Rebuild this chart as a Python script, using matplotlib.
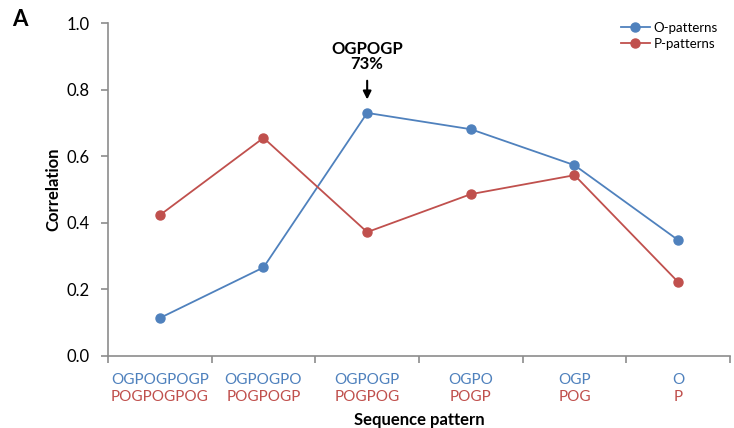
import matplotlib.pyplot as plt
import matplotlib.transforms as mtransforms

plt.rcParams['font.family'] = ['Lato', 'DejaVu Sans']

o_labels = ["OGPOGPOGP", "OGPOGPO", "OGPOGP", "OGPO", "OGP", "O"]
p_labels = ["POGPOGPOG", "POGPOGP", "POGPOG", "POGP", "POG", "P"]
o_values = [0.114, 0.266, 0.73, 0.681, 0.573, 0.348]
p_values = [0.423, 0.655, 0.372, 0.486, 0.543, 0.222]

blue = "#4F81BD"
red = "#C0504D"
axis_gray = "#8C8C8C"

fig = plt.figure(figsize=(7.34, 4.28), dpi=100)
ax = fig.add_axes([108 / 734, 1 - 356 / 428, 622 / 734, 333 / 428])

x = list(range(1, len(o_values) + 1))
ax.plot(x, o_values, color=blue, marker="o", markersize=6.5, linewidth=1.3,
        label="O-patterns")
ax.plot(x, p_values, color=red, marker="o", markersize=6.5, linewidth=1.3,
        label="P-patterns")

ax.set_xlim(0.5, 6.5)
ax.set_ylim(0, 1.0)
ax.set_yticks([0.0, 0.2, 0.4, 0.6, 0.8, 1.0])
ax.set_yticklabels(["0.0", "0.2", "0.4", "0.6", "0.8", "1.0"], fontsize=12)
ax.set_xticks([i + 0.5 for i in range(0, 7)])
ax.set_xticklabels([])

for side in ["top", "right"]:
    ax.spines[side].set_visible(False)
for side in ["left", "bottom"]:
    ax.spines[side].set_color(axis_gray)
    ax.spines[side].set_linewidth(1.2)
ax.tick_params(axis="both", colors=axis_gray, length=5, width=1.2,
               direction="out", labelcolor="black")
ax.tick_params(axis="y", pad=8)

# two-line category labels below the axis
trans = mtransforms.blended_transform_factory(ax.transData, ax.transAxes)
for xi, ol, pl in zip(x, o_labels, p_labels):
    ax.text(xi, -0.072, ol, color=blue, fontsize=11, ha="center", va="center",
            transform=trans)
    ax.text(xi, -0.122, pl, color=red, fontsize=11, ha="center", va="center",
            transform=trans)

ax.text(3.5, -0.168, "Sequence pattern", fontsize=12, fontweight="bold",
        ha="center", va="top", transform=trans)
ax.set_ylabel("Correlation", fontsize=12, fontweight="bold", labelpad=4)

ax.annotate("", xy=(3, 0.762), xytext=(3, 0.835),
            arrowprops=dict(arrowstyle="-|>", color="black", lw=1.5,
                            mutation_scale=12))
ax.text(3, 0.9, "OGPOGP\n73%", fontsize=12, fontweight="bold",
        ha="center", va="center", linespacing=0.95)

ax.legend(loc="upper right", bbox_to_anchor=(1.0, 1.04), frameon=False,
          fontsize=9.5, handlelength=2.2, handletextpad=0.3,
          labelspacing=0.3)

fig.text(12 / 734, 1 - 20 / 428, "A", fontsize=16, fontweight="bold",
         ha="left", va="center")

fig.savefig("out.png", dpi=100)
